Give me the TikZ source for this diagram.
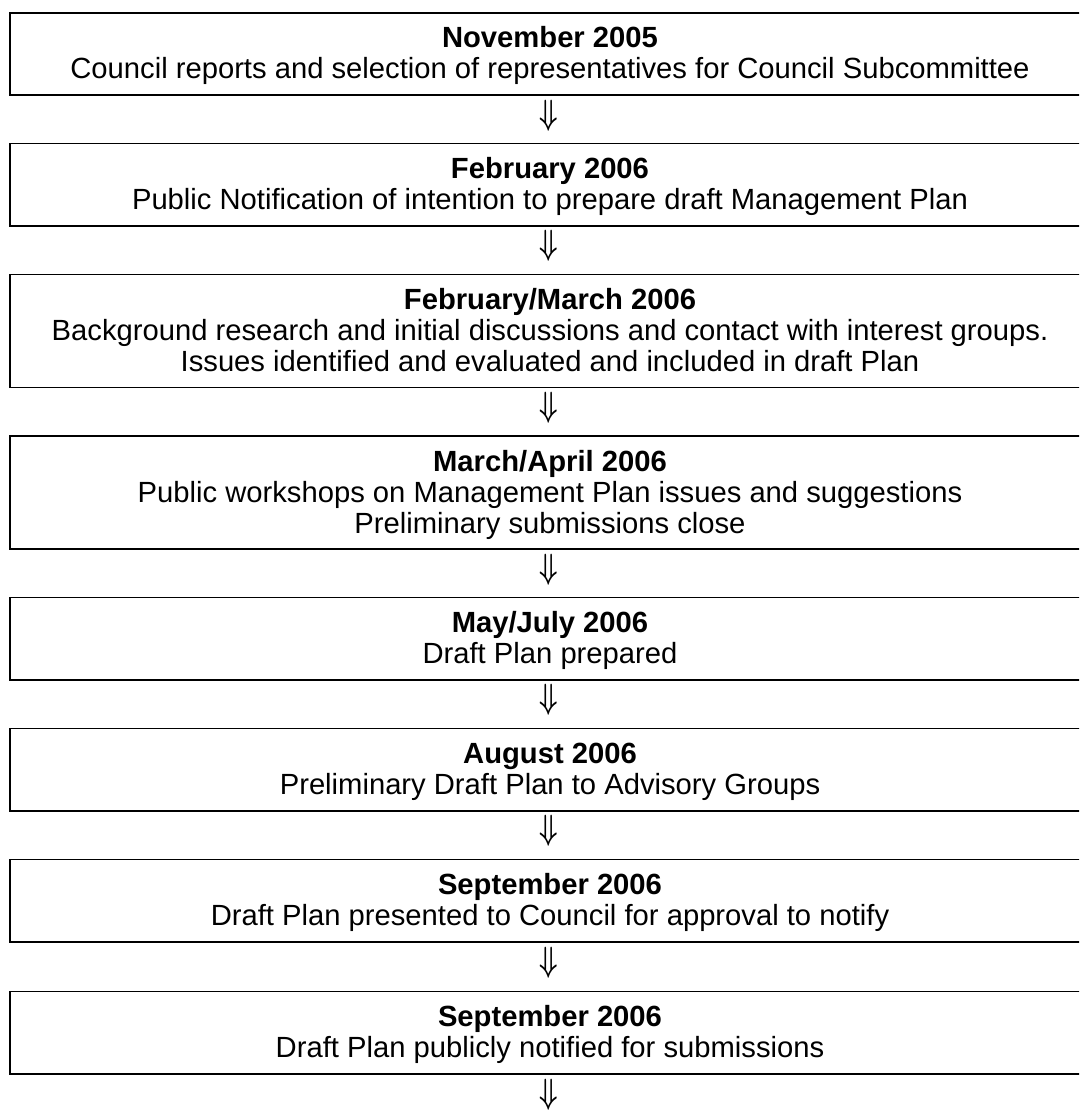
\RequirePackage{fix-cm}
\documentclass[tikz,border=0pt]{standalone}
\usepackage{fontspec}
\setmainfont{Liberation Sans}
\usetikzlibrary{calc}
\newcommand\stagetop{\rule{0pt}{27pt}}
\newcommand\stagebot{\rule[-8pt]{0pt}{8pt}}
\newcommand\downglyph{\scalebox{0.75}[1]{\boldmath$\Downarrow$}}
\begin{document}
\begin{tikzpicture}[x=1pt,y=-1pt,
  stagebox/.style={draw, line width=1.8pt, minimum width=1080pt, inner sep=0pt,
    align=center, font=\fontsize{29.2}{31}\selectfont},
  twoline/.style={stagebox, minimum height=82.3pt},
  threeline/.style={stagebox, minimum height=113pt},
  flowarrow/.style={inner sep=0pt, font=\fontsize{35}{35}\selectfont}]
\useasboundingbox (0,0) rectangle (1079,1111);
\clip (0,0) rectangle (1079,1111);
\node[twoline] (b1) at (550,53.85) {\stagetop\textbf{November 2005}\\Council reports and selection of representatives for Council Subcommittee\stagebot};
\node[twoline] (b2) at (550,184.65) {\stagetop\textbf{February 2006}\\Public Notification of intention to prepare draft Management Plan\stagebot};
\node[threeline] (b3) at (550,331) {\stagetop\textbf{February/March 2006}\\Background research and initial discussions and contact with interest groups.\\Issues identified and evaluated and included in draft Plan\stagebot};
\node[threeline] (b4) at (550,492.5) {\stagetop\textbf{March/April 2006}\\Public workshops on Management Plan issues and suggestions\\Preliminary submissions close\stagebot};
\node[twoline] (b5) at (550,638.65) {\stagetop\textbf{May/July 2006}\\Draft Plan prepared\stagebot};
\node[twoline] (b6) at (550,769.65) {\stagetop\textbf{August 2006}\\Preliminary Draft Plan to Advisory Groups\stagebot};
\node[twoline] (b7) at (550,900.65) {\stagetop\textbf{September 2006}\\Draft Plan presented to Council for approval to notify\stagebot};
\node[twoline] (b8) at (550,1032.65) {\stagetop\textbf{September 2006}\\Draft Plan publicly notified for submissions\stagebot};
\node[flowarrow] (a1) at ($(b1.south)!0.5!(b2.north)+(-1,-4)$) {\downglyph};
\node[flowarrow] (a2) at ($(b2.south)!0.5!(b3.north)+(-1,-4)$) {\downglyph};
\node[flowarrow] (a3) at ($(b3.south)!0.5!(b4.north)+(-1,-4)$) {\downglyph};
\node[flowarrow] (a4) at ($(b4.south)!0.5!(b5.north)+(-1,-4)$) {\downglyph};
\node[flowarrow] (a5) at ($(b5.south)!0.5!(b6.north)+(-1,-4)$) {\downglyph};
\node[flowarrow] (a6) at ($(b6.south)!0.5!(b7.north)+(-1,-4)$) {\downglyph};
\node[flowarrow] (a7) at ($(b7.south)!0.5!(b8.north)+(-1,-4)$) {\downglyph};
\node[flowarrow] (a8) at ($(b8.south)+(-1,20)$) {\downglyph};
\end{tikzpicture}
\end{document}
